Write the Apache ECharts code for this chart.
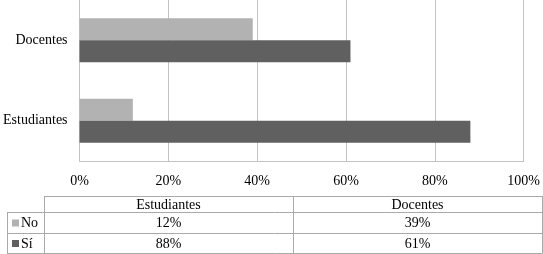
<!DOCTYPE html>
<html>
<head>
<meta charset="utf-8">
<script src="https://cdn.jsdelivr.net/npm/echarts@6/dist/echarts.min.js"></script>
<style>
  html, body { margin: 0; padding: 0; background: #fff; }
  #chart { width: 543px; height: 254px; }
</style>
</head>
<body>
<div id="chart"></div>
<script>
var categories = ['Estudiantes', 'Docentes'];
var seriesNames = ['No', 'Sí'];
var noValues = [12, 39];
var siValues = [88, 61];
var xTicks = [0, 20, 40, 60, 80, 100];

var colorNo = '#b2b2b2',
  colorSi = '#606060',
  gridColor = '#c3c3c3',
  tableLine = '#aaaaaa',
  font = '"Liberation Serif", "Times New Roman", serif';

function buildTable() {
  var left = 7, keyCol = 44, colDiv = 293, right = 542;
  var rows = [196, 212, 233, 253];
  var colEdges = [keyCol, colDiv, right];
  var els = [];
  function line(x1, y1, x2, y2) {
    els.push({
      type: 'line',
      shape: { x1: x1, y1: y1, x2: x2, y2: y2 },
      style: { stroke: tableLine, lineWidth: 1 }
    });
  }
  function text(str, x, y, align) {
    els.push({
      type: 'text',
      x: x, y: y,
      style: {
        text: str, fill: '#000', font: '14px ' + font,
        align: align || 'center', verticalAlign: 'middle'
      }
    });
  }
  // horizontal lines
  line(keyCol, rows[0] + 0.5, right, rows[0] + 0.5);
  for (var r = 1; r < rows.length; r++) {
    line(left, rows[r] + 0.5, right, rows[r] + 0.5);
  }
  // vertical lines
  line(left + 0.5, rows[1], left + 0.5, rows[3] + 0.5);
  colEdges.forEach(function (x) {
    line(x + 0.5, rows[0], x + 0.5, rows[3] + 0.5);
  });
  // header
  categories.forEach(function (c, i) {
    text(c, (colEdges[i] + colEdges[i + 1]) / 2, (rows[0] + rows[1]) / 2 + 1);
  });
  // rows
  var data = [noValues, siValues], colors = [colorNo, colorSi];
  seriesNames.forEach(function (name, r) {
    var cy = (rows[r + 1] + rows[r + 2]) / 2 + 1;
    els.push({
      type: 'rect',
      shape: { x: 12, y: cy - 4, width: 7, height: 7 },
      style: { fill: colors[r] }
    });
    text(name, 21, cy, 'left');
    data[r].forEach(function (v, i) {
      text(v + '%', (colEdges[i] + colEdges[i + 1]) / 2, cy);
    });
  });
  return els;
}

var myChart = echarts.init(document.getElementById('chart'));
var option = {
  animation: false,
  textStyle: { fontFamily: font },
  grid: { left: 79, right: 17, top: 0, bottom: 93, containLabel: false },
  xAxis: {
    type: 'value',
    min: 0,
    max: 100,
    interval: 20,
    axisLabel: {
      color: '#000',
      fontSize: 14,
      margin: 13,
      formatter: function (v) { return v + '%'; }
    },
    axisLine: { show: true, lineStyle: { color: gridColor, width: 1 } },
    axisTick: { show: false },
    splitLine: { show: true, lineStyle: { color: gridColor, width: 1 } }
  },
  yAxis: {
    type: 'category',
    data: categories,
    axisLabel: { color: '#000', fontSize: 14, margin: 12 },
    axisLine: { show: true, lineStyle: { color: gridColor, width: 1 } },
    axisTick: { show: false }
  },
  series: [
    {
      name: seriesNames[0],
      type: 'bar',
      barWidth: 22,
      barGap: '0%',
      itemStyle: { color: colorNo },
      data: noValues
    },
    {
      name: seriesNames[1],
      type: 'bar',
      barWidth: 22,
      barGap: '0%',
      itemStyle: { color: colorSi },
      data: siValues
    }
  ],
  graphic: buildTable()
};
myChart.setOption(option);
</script>
</body>
</html>
